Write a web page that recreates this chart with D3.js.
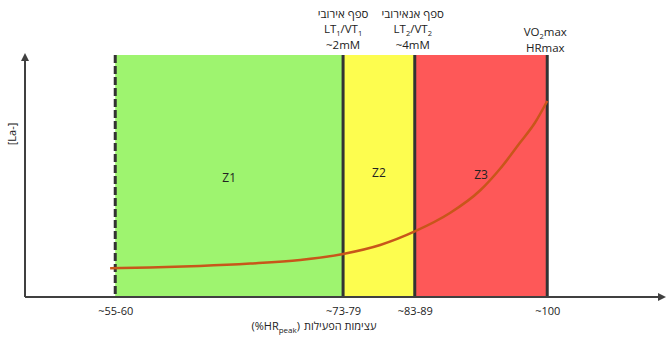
<!DOCTYPE html>
<html><head><meta charset="utf-8">
<script src="https://cdn.jsdelivr.net/npm/d3@7"></script>
<style>
html,body{margin:0;padding:0;background:#fff;}
text{font-family:"Open Sans","Liberation Sans","DejaVu Sans",sans-serif;fill:#222;}
</style></head>
<body><svg id="c" width="670" height="345"></svg>
<script>
// ---- data (abstract intensity units 0-100 on x, lactate units 0-100 on y) ----
const zoneNames = ["Z1", "Z2", "Z3"];
const zoneColors = ["#9ef46f", "#fdfd4f", "#fe5858"];
const boundaries = [14.1, 49.7, 60.9, 81.6];           // zone edges
const tickLabels = ["~55-60", "~73-79", "~83-89", "~100"];
const curveX = [13.3, 19.5, 27.3, 35.2, 43.0, 49.7, 55.5, 60.9, 66.4, 71.1, 74.2, 77.3, 79.7, 81.6];
const curveY = [11.9, 12.2, 12.8, 13.8, 15.3, 17.8, 21.5, 27.1, 34.7, 44.0, 52.9, 63.6, 72.1, 81.0];
const zoneLabelY = [49, 51, 50];

const svg = d3.select("#c");
const x = d3.scaleLinear().domain([0, 100]).range([25, 665]);
const y = d3.scaleLinear().domain([0, 100]).range([297, 55]);

// zones
svg.selectAll("rect.zone").data(zoneNames).join("rect")
  .attr("x", (d, i) => x(boundaries[i]))
  .attr("width", (d, i) => x(boundaries[i + 1]) - x(boundaries[i]))
  .attr("y", y(100)).attr("height", y(0) - y(100))
  .attr("fill", (d, i) => zoneColors[i]);

// zone labels
svg.selectAll("text.zl").data(zoneNames).join("text")
  .attr("x", (d, i) => (x(boundaries[i]) + x(boundaries[i + 1])) / 2)
  .attr("y", (d, i) => y(zoneLabelY[i]))
  .attr("text-anchor", "middle").attr("dominant-baseline", "middle")
  .attr("font-size", 12).text(d => d);

// boundary lines
svg.selectAll("line.b").data(boundaries).join("line")
  .attr("x1", d => x(d)).attr("x2", d => x(d))
  .attr("y1", y(100)).attr("y2", y(0))
  .attr("stroke", "#333").attr("stroke-width", 3)
  .attr("stroke-dasharray", (d, i) => i === 0 ? "8,3" : null);

// lactate curve
const pts = curveX.map((v, i) => [v, curveY[i]]);
svg.append("path").datum(pts)
  .attr("d", d3.line().x(d => x(d[0])).y(d => y(d[1])).curve(d3.curveMonotoneX))
  .attr("fill", "none").attr("stroke", "#c8561a").attr("stroke-width", 2.5);

// arrow markers
const defs = svg.append("defs");
defs.append("marker").attr("id", "arr").attr("viewBox", "0 0 10 10")
  .attr("refX", 5).attr("refY", 5).attr("markerWidth", 4).attr("markerHeight", 4)
  .attr("orient", "auto")
  .append("path").attr("d", "M0,0 L10,5 L0,10 z").attr("fill", "#404040");

// axes
svg.append("line").attr("x1", x(0)).attr("x2", x(0)).attr("y1", y(0)).attr("y2", y(100) + 2)
  .attr("stroke", "#404040").attr("stroke-width", 2).attr("marker-end", "url(#arr)");
svg.append("line").attr("x1", x(0)).attr("x2", x(100) - 3).attr("y1", y(0)).attr("y2", y(0))
  .attr("stroke", "#404040").attr("stroke-width", 2).attr("marker-end", "url(#arr)");

const xAxis = d3.axisBottom(x).tickValues(boundaries)
  .tickFormat((d, i) => tickLabels[i]).tickSize(0).tickPadding(10);
const gx = svg.append("g").attr("transform", `translate(0,${y(0)})`).call(xAxis);
gx.select(".domain").remove();
gx.selectAll("text").attr("font-size", 11).attr("fill", "#222")
  .attr("font-family", "\"Open Sans\",\"Liberation Sans\",sans-serif");

// x title: LTR part then Hebrew part
const xt = svg.append("text").attr("x", 300).attr("y", 330).attr("text-anchor", "end")
  .attr("font-size", 11).attr("direction", "ltr").style("unicode-bidi", "bidi-override");
xt.append("tspan").text("(%HR");
xt.append("tspan").attr("font-size", 8).attr("dy", 3).text("peak");
xt.append("tspan").attr("dy", -3).text(")");
svg.append("text").attr("x", 304).attr("y", 330).attr("text-anchor", "start")
  .attr("font-size", 11).attr("direction", "ltr").text("עצימות הפעילות");

// y title
svg.append("text").attr("transform", "translate(16,134) rotate(-90)")
  .attr("text-anchor", "middle").attr("font-size", 11).text("[La-]");

// top annotations
function sub(t, parts) {
  parts.forEach(p => {
    if (p.sub) t.append("tspan").attr("font-size", 7.5).attr("dy", 2.5).text(p.s);
    else t.append("tspan").attr("dy", p.up ? -2.5 : 0).text(p.s);
  });
}
const fs = 11.5;
const a1 = x(boundaries[1]), a2 = x(boundaries[2]) - 2, a3 = x(boundaries[3]) - 2;
svg.append("text").attr("x", a1).attr("y", 18).attr("text-anchor", "middle").attr("font-size", fs).text("ספף אירובי");
let t = svg.append("text").attr("x", a1).attr("y", 33).attr("text-anchor", "middle").attr("font-size", fs);
sub(t, [{s: "LT"}, {s: "1", sub: true}, {s: "/VT", up: true}, {s: "1", sub: true}]);
svg.append("text").attr("x", a1).attr("y", 48.5).attr("text-anchor", "middle").attr("font-size", fs).text("~2mM");

svg.append("text").attr("x", a2).attr("y", 18).attr("text-anchor", "middle").attr("font-size", fs).text("ספף אנאירובי");
t = svg.append("text").attr("x", a2).attr("y", 33).attr("text-anchor", "middle").attr("font-size", fs);
sub(t, [{s: "LT"}, {s: "2", sub: true}, {s: "/VT", up: true}, {s: "2", sub: true}]);
svg.append("text").attr("x", a2).attr("y", 48.5).attr("text-anchor", "middle").attr("font-size", fs).text("~4mM");

t = svg.append("text").attr("x", a3).attr("y", 36).attr("text-anchor", "middle").attr("font-size", fs);
sub(t, [{s: "VO"}, {s: "2", sub: true}, {s: "max", up: true}]);
svg.append("text").attr("x", a3).attr("y", 51.5).attr("text-anchor", "middle").attr("font-size", fs).text("HRmax");
</script></body></html>
